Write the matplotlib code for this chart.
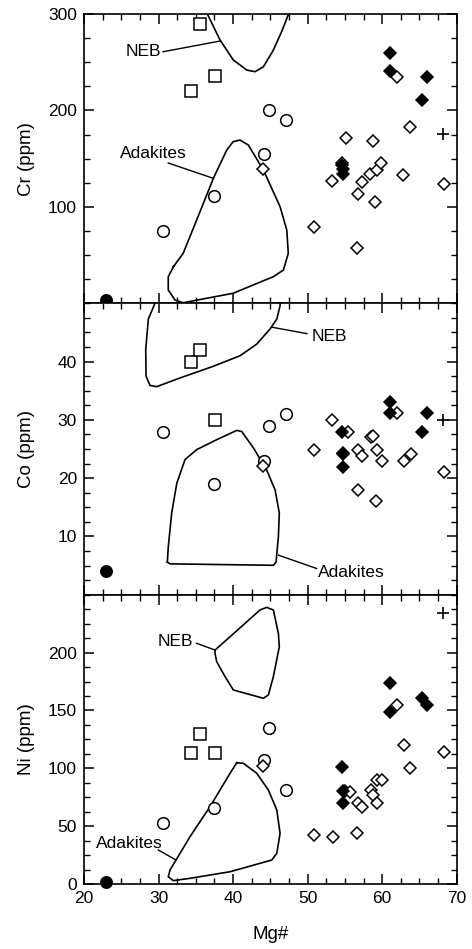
import matplotlib
matplotlib.use("Agg")
import matplotlib.pyplot as plt
from matplotlib.ticker import MultipleLocator

plt.rcParams['font.family'] = ['Liberation Sans', 'DejaVu Sans']

# ---------------- data ----------------
# open squares
sq_mg = [34.4, 35.6, 37.6]
sq_cr = [220, 290, 236]
sq_co = [40, 42, 30]
sq_ni = [113, 130, 113]

# open circles
ci_mg = [30.6, 37.4, 44.15, 44.85, 47.1]
ci_cr = [75, 111, 155, 200, 190]
ci_co = [28, 19, 23, 29, 31]
ci_ni = [53, 66, 107, 135, 81]

# filled circle
fc_mg = [22.95]
fc_cr = [3]
fc_co = [4]
fc_ni = [2]

# plus
pl_mg = [68.1]
pl_cr = [176]
pl_co = [30]
pl_ni = [234]

# filled diamonds
fd_mg = [61.0, 61.0, 65.95, 65.3, 54.65, 54.8, 54.7]
fd_cr = [260, 241, 235, 211, 143, 139, 134]
fd_co = [33, 31.1, 31.1, 28, 28, 24.1, 21.9]
fd_ni = [174, 149, 155, 160.5, 101, 80, 70]

# open diamonds (per panel)
od_mg_cr = [44.0, 50.8, 53.3, 54.6, 55.2, 56.6, 56.8, 57.3, 58.4, 58.7, 59.1, 59.3, 59.9, 62.0, 62.85, 63.7, 68.3]
od_cr = [139.6, 79.4, 127.1, 146, 171, 57.6, 113.3, 125.4, 133.7, 168.3, 105, 138.2, 145.8, 235, 133, 183, 123.7]
od_mg_co = [44.06, 50.86, 53.32, 54.7, 55.47, 56.7, 56.8, 57.34, 58.46, 58.73, 59.18, 59.27, 60.03, 61.95, 62.94, 63.88, 68.35]
od_co = [22.1, 24.9, 29.9, 24.3, 27.9, 18.0, 24.9, 23.8, 27.0, 27.2, 16.0, 24.9, 23.0, 31.1, 23.0, 24.1, 21.0]
od_mg_ni = [44.06, 50.86, 53.45, 55.02, 55.69, 56.67, 56.8, 57.34, 58.46, 58.73, 59.27, 59.27, 59.94, 61.96, 62.94, 63.74, 68.35]
od_ni = [101.6, 42.4, 40.9, 80.0, 79.8, 44.3, 70.3, 66.8, 81.2, 76.9, 69.7, 89.9, 89.9, 154.7, 120.1, 100, 114.3]

# field outlines (Mg#, value)
adak_cr_mg = [32.0, 33.3, 35.3, 37.35, 39.15, 40.0, 40.93, 42.05, 44.06, 46.3, 47.2, 47.4, 46.75, 45.4, 40.0, 33.3, 32.2, 31.3, 31.3, 32.0]
adak_cr_v = [38, 51.8, 90, 129.6, 159, 167.6, 169.3, 164.1, 138.2, 100.2, 76, 51.8, 34.5, 27.6, 10.4, 0.6, 3.4, 13.8, 27.6, 38]
neb_cr_mg = [36.3, 36.55, 38.25, 40.03, 41.83, 42.94, 44.06, 45.4, 46.5, 47.4, 47.6]
neb_cr_v = [305, 300, 273, 252.3, 241.9, 240.2, 245.3, 262.6, 281.6, 299.3, 305]

neb_co_mg = [29.8, 29.53, 28.63, 28.28, 28.32, 28.86, 29.75, 32.9, 37.35, 40.93, 43.17, 44.96, 45.86, 46.3, 46.3]
neb_co_v = [51, 50.05, 47.3, 42.1, 37.5, 35.9, 35.7, 37.2, 39.2, 41.0, 43.0, 45.6, 47.3, 49.6, 51]
adak_co_mg = [31.18, 31.3, 31.76, 32.44, 33.55, 35.12, 37.8, 40.49, 41.16, 42.72, 44.5, 45.63, 46.2, 46.07, 45.76, 45.4, 31.54, 31.18]
adak_co_v = [5.6, 8.2, 14.0, 19.1, 23.2, 24.9, 26.6, 28.2, 28.0, 25.2, 21.4, 18.0, 14.0, 9.9, 5.6, 5.05, 5.3, 5.6]

neb_ni_mg = [37.58, 39.59, 43.6, 44.5, 45.4, 46.07, 46.2, 45.4, 44.73, 44.06, 40.03, 38.92, 37.8, 37.58, 37.58]
neb_ni_v = [202.2, 213.7, 236.8, 239.1, 236.8, 216.7, 205.1, 179.2, 163.4, 160.5, 167.7, 179.2, 192.1, 199, 202.2]
adak_ni_mg = [40.49, 41.38, 43.17, 44.73, 45.86, 46.3, 45.86, 45.18, 39.59, 34.22, 31.98, 31.3, 31.54, 34.22, 36.9, 39.59, 40.49]
adak_ni_v = [104.8, 104.3, 95.7, 81.2, 64, 43.8, 26.5, 20.7, 10.6, 4.9, 2.9, 6.3, 12.1, 40.9, 66.8, 95.7, 104.8]

# ---------------- figure ----------------
fig = plt.figure(figsize=(4.72, 9.49), dpi=100)
L, W = 0.178, 0.7897
ax_cr = fig.add_axes([L, 0.6804, W, 0.3048])
ax_co = fig.add_axes([L, 0.3733, W, 0.3071], sharex=ax_cr)
ax_ni = fig.add_axes([L, 0.0685, W, 0.3048], sharex=ax_cr)

lw_line = 1.2
mew = 1.1

def markers(ax, mgsq, sq, mgci, ci, mgod, od, mgfd, fd, mgfc, fc, mgpl, pl):
    ax.plot(mgci, ci, 'o', ms=8.4, mfc='white', mec='black', mew=mew, ls='none', zorder=3)
    ax.plot(mgsq, sq, 's', ms=8.6, mfc='white', mec='black', mew=mew, ls='none', zorder=3)
    ax.plot(mgod, od, 'D', ms=6.2, mfc='white', mec='black', mew=mew, ls='none', zorder=4)
    ax.plot(mgfd, fd, 'D', ms=6.2, mfc='black', mec='black', mew=mew, ls='none', zorder=5)
    ax.plot(mgfc, fc, 'o', ms=8.2, mfc='black', mec='black', mew=mew, ls='none', zorder=5, clip_on=False)
    ax.plot(mgpl, pl, '+', ms=8.5, mec='black', mew=1.2, ls='none', zorder=5)

# Cr panel
ax_cr.plot(adak_cr_mg, adak_cr_v, color='black', lw=lw_line, zorder=2)
ax_cr.plot(neb_cr_mg, neb_cr_v, color='black', lw=lw_line, zorder=2)
ax_cr.plot([30.6, 38.25], [260.9, 272], color='black', lw=1.0)
ax_cr.plot([31.3, 37.35], [145.5, 129.6], color='black', lw=1.0)
ax_cr.text(27.9, 260.9, 'NEB', ha='center', va='center', fontsize=12.5)
ax_cr.text(29.24, 155.5, 'Adakites', ha='center', va='center', fontsize=12.5)
markers(ax_cr, sq_mg, sq_cr, ci_mg, ci_cr, od_mg_cr, od_cr, fd_mg, fd_cr, fc_mg, fc_cr, pl_mg, pl_cr)

# Co panel
ax_co.plot(neb_co_mg, neb_co_v, color='black', lw=lw_line, zorder=2)
ax_co.plot(adak_co_mg, adak_co_v, color='black', lw=lw_line, zorder=2)
ax_co.plot([45.2, 49.9], [45.9, 44.8], color='black', lw=1.0)
ax_co.plot([46.07, 51.2], [6.8, 4.5], color='black', lw=1.0)
ax_co.text(52.9, 44.3, 'NEB', ha='center', va='center', fontsize=12.5)
ax_co.text(55.9, 3.9, 'Adakites', ha='center', va='center', fontsize=12.5)
markers(ax_co, sq_mg, sq_co, ci_mg, ci_co, od_mg_co, od_co, fd_mg, fd_co, fc_mg, fc_co, pl_mg, pl_co)

# Ni panel
ax_ni.plot(neb_ni_mg, neb_ni_v, color='black', lw=lw_line, zorder=2)
ax_ni.plot(adak_ni_mg, adak_ni_v, color='black', lw=lw_line, zorder=2)
ax_ni.plot([35.1, 37.58], [208, 202.2], color='black', lw=1.0)
ax_ni.plot([29.97, 32.34], [29.4, 20.7], color='black', lw=1.0)
ax_ni.text(32.3, 209.4, 'NEB', ha='center', va='center', fontsize=12.5)
ax_ni.text(26.1, 35.2, 'Adakites', ha='center', va='center', fontsize=12.5)
markers(ax_ni, sq_mg, sq_ni, ci_mg, ci_ni, od_mg_ni, od_ni, fd_mg, fd_ni, fc_mg, fc_ni, pl_mg, pl_ni)

# axes styling
ax_cr.set_xlim(20, 70)
ax_cr.set_ylim(0, 300)
ax_co.set_ylim(0, 50)
ax_ni.set_ylim(0, 250)

ax_cr.yaxis.set_major_locator(MultipleLocator(100))
ax_cr.yaxis.set_minor_locator(MultipleLocator(25))
ax_co.yaxis.set_major_locator(MultipleLocator(10))
ax_co.yaxis.set_minor_locator(MultipleLocator(2.5))
ax_ni.yaxis.set_major_locator(MultipleLocator(50))
ax_ni.yaxis.set_minor_locator(MultipleLocator(12.5))
ax_ni.xaxis.set_major_locator(MultipleLocator(10))
ax_ni.xaxis.set_minor_locator(MultipleLocator(2.5))

for ax in (ax_cr, ax_co, ax_ni):
    for sp in ax.spines.values():
        sp.set_linewidth(1.2)
    ax.tick_params(which='both', direction='in', top=True, right=True, labelsize=12.5, colors='black', pad=5)
    ax.tick_params(which='major', length=7, width=1.1)
    ax.tick_params(which='minor', length=4, width=1.0)

ax_cr.tick_params(labelbottom=False)
ax_co.tick_params(labelbottom=False)

ax_cr.set_yticks([100, 200, 300])
ax_co.set_yticks([10, 20, 30, 40])
ax_ni.set_yticks([0, 50, 100, 150, 200])

ax_cr.set_ylabel('Cr (ppm)', fontsize=13.5)
ax_co.set_ylabel('Co (ppm)', fontsize=13.5)
ax_ni.set_ylabel('Ni (ppm)', fontsize=13.5)
for ax in (ax_cr, ax_co, ax_ni):
    ax.yaxis.set_label_coords(-0.132, 0.5)
ax_ni.set_xlabel('Mg#', fontsize=13.5)
ax_ni.xaxis.set_label_coords(0.5, -0.145)

fig.savefig('out.png', dpi=100)
